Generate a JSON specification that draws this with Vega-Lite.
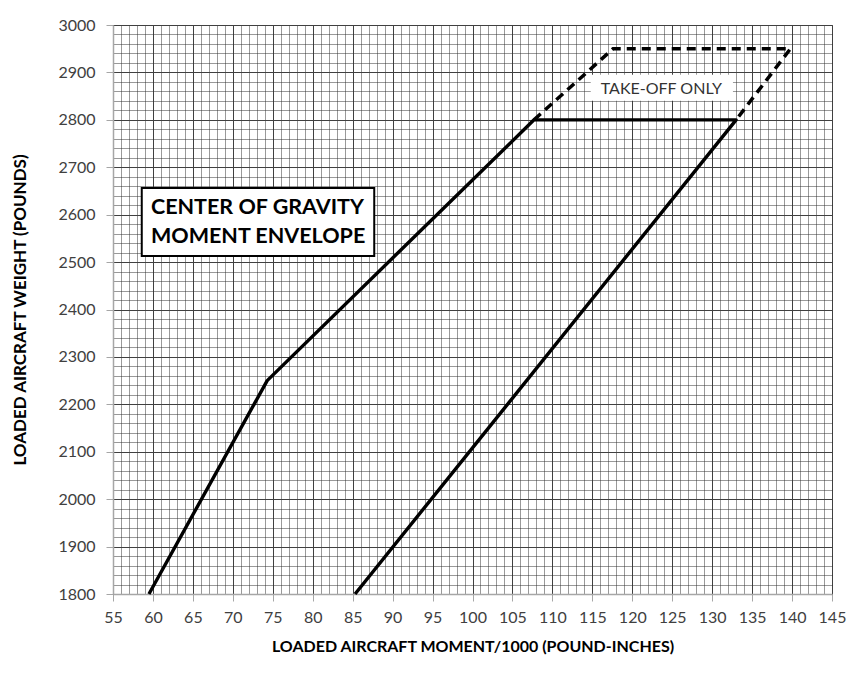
{
  "$schema": "https://vega.github.io/schema/vega-lite/v6.json",
  "width": 719,
  "height": 569,
  "autosize": {"type": "none"},
  "padding": {"left": 113, "top": 25, "right": 24, "bottom": 81},
  "background": "white",
  "config": {"view": {"stroke": "#595959", "strokeWidth": 1}, "font": "Lato"},
  "datasets": {
    "solid": [
      {"m": 59.5, "w": 1800, "o": 1},
      {"m": 74.3, "w": 2250, "o": 2},
      {"m": 107.7, "w": 2800, "o": 3},
      {"m": 133, "w": 2800, "o": 4},
      {"m": 85.3, "w": 1800, "o": 5}
    ],
    "dashed": [
      {"m": 107.7, "w": 2800, "o": 1},
      {"m": 117.6, "w": 2950, "o": 2},
      {"m": 139.8, "w": 2950, "o": 3},
      {"m": 133, "w": 2800, "o": 4}
    ],
    "cgbox": [{"x": 58.6, "x2": 87.7, "y": 2656, "y2": 2513}],
    "cgtext": [{"x": 59.75, "y": 2614, "t": "CENTER OF GRAVITY\nMOMENT ENVELOPE"}],
    "tobox": [{"x": 114.8, "x2": 132.6, "y": 2895, "y2": 2840}],
    "totext": [{"x": 123.65, "y": 2864, "t": "TAKE-OFF ONLY"}]
  },
  "layer": [
    {
      "data": {"name": "solid"},
      "mark": {"type": "line", "opacity": 0},
      "encoding": {
        "x": {
          "field": "m", "type": "quantitative",
          "scale": {"domain": [55, 145], "nice": false, "zero": false},
          "axis": {
            "orient": "bottom",
            "values": [56,57,58,59,61,62,63,64,66,67,68,69,71,72,73,74,76,77,78,79,81,82,83,84,86,87,88,89,91,92,93,94,96,97,98,99,101,102,103,104,106,107,108,109,111,112,113,114,116,117,118,119,121,122,123,124,126,127,128,129,131,132,133,134,136,137,138,139,141,142,143,144],
            "grid": true, "gridColor": "#333333", "gridWidth": 1, "gridDash": [1, 1],
            "labels": false, "ticks": false, "domain": false, "title": null
          }
        },
        "y": {
          "field": "w", "type": "quantitative",
          "scale": {"domain": [1800, 3000], "nice": false, "zero": false},
          "axis": {
            "orient": "left",
            "values": [1820,1840,1860,1880,1920,1940,1960,1980,2020,2040,2060,2080,2120,2140,2160,2180,2220,2240,2260,2280,2320,2340,2360,2380,2420,2440,2460,2480,2520,2540,2560,2580,2620,2640,2660,2680,2720,2740,2760,2780,2820,2840,2860,2880,2920,2940,2960,2980],
            "grid": true, "gridColor": "#333333", "gridWidth": 1, "gridDash": [1, 1],
            "labels": false, "ticks": false, "domain": false, "title": null
          }
        }
      }
    },
    {
      "data": {"name": "solid"},
      "mark": {"type": "line", "color": "black", "strokeWidth": 3.4, "strokeJoin": "round"},
      "encoding": {
        "x": {
          "field": "m", "type": "quantitative",
          "axis": {
            "orient": "bottom",
            "values": [55,60,65,70,75,80,85,90,95,100,105,110,115,120,125,130,135,140,145],
            "format": "d", "labelOverlap": false, "labelFlush": false, "labelBound": false,
            "grid": true, "gridColor": "#404040", "gridWidth": 1,
            "domainColor": "#a6a6a6", "domainWidth": 1.5,
            "tickColor": "#a6a6a6", "tickSize": 7, "tickWidth": 1,
            "labelFont": "Lato", "labelFontSize": 16, "labelColor": "#404040", "labelPadding": 8,
            "title": "LOADED AIRCRAFT MOMENT/1000 (POUND-INCHES)",
            "titleFont": "Lato", "titleFontSize": 16, "titleFontWeight": "bold", "titleColor": "black", "titlePadding": 13
          }
        },
        "y": {
          "field": "w", "type": "quantitative",
          "axis": {
            "orient": "left",
            "values": [1800,1900,2000,2100,2200,2300,2400,2500,2600,2700,2800,2900,3000],
            "format": "d", "labelOverlap": false, "labelFlush": false, "labelBound": false,
            "grid": true, "gridColor": "#404040", "gridWidth": 1,
            "domainColor": "#a6a6a6", "domainWidth": 1.5,
            "tickColor": "#a6a6a6", "tickSize": 7, "tickWidth": 1,
            "labelFont": "Lato", "labelFontSize": 16, "labelColor": "#404040", "labelPadding": 11,
            "title": "LOADED AIRCRAFT WEIGHT (POUNDS)",
            "titleFont": "Lato", "titleFontSize": 17, "titleFontWeight": "bold", "titleColor": "black", "titlePadding": 28
          }
        },
        "order": {"field": "o"}
      }
    },
    {
      "data": {"name": "dashed"},
      "mark": {"type": "line", "color": "black", "strokeWidth": 3.5, "strokeDash": [9, 6]},
      "encoding": {
        "x": {"field": "m", "type": "quantitative", "axis": null},
        "y": {"field": "w", "type": "quantitative", "axis": null},
        "order": {"field": "o"}
      }
    },
    {
      "data": {"name": "tobox"},
      "mark": {"type": "rect", "fill": "white", "strokeWidth": 0},
      "encoding": {
        "x": {"field": "x", "type": "quantitative", "axis": null},
        "x2": {"field": "x2"},
        "y": {"field": "y", "type": "quantitative", "axis": null},
        "y2": {"field": "y2"}
      }
    },
    {
      "data": {"name": "totext"},
      "mark": {"type": "text", "font": "Lato", "fontSize": 16, "color": "#333333", "align": "center", "baseline": "middle"},
      "encoding": {
        "x": {"field": "x", "type": "quantitative", "axis": null},
        "y": {"field": "y", "type": "quantitative", "axis": null},
        "text": {"field": "t"}
      }
    },
    {
      "data": {"name": "cgbox"},
      "mark": {"type": "rect", "fill": "white", "stroke": "black", "strokeWidth": 2},
      "encoding": {
        "x": {"field": "x", "type": "quantitative", "axis": null},
        "x2": {"field": "x2"},
        "y": {"field": "y", "type": "quantitative", "axis": null},
        "y2": {"field": "y2"}
      }
    },
    {
      "data": {"name": "cgtext"},
      "mark": {"type": "text", "font": "Lato", "fontSize": 21.5, "fontWeight": "bold", "color": "black", "align": "left", "baseline": "middle", "lineBreak": "\n", "lineHeight": 29},
      "encoding": {
        "x": {"field": "x", "type": "quantitative", "axis": null},
        "y": {"field": "y", "type": "quantitative", "axis": null},
        "text": {"field": "t"}
      }
    }
  ],
  "resolve": {"axis": {"x": "independent", "y": "independent"}}
}
